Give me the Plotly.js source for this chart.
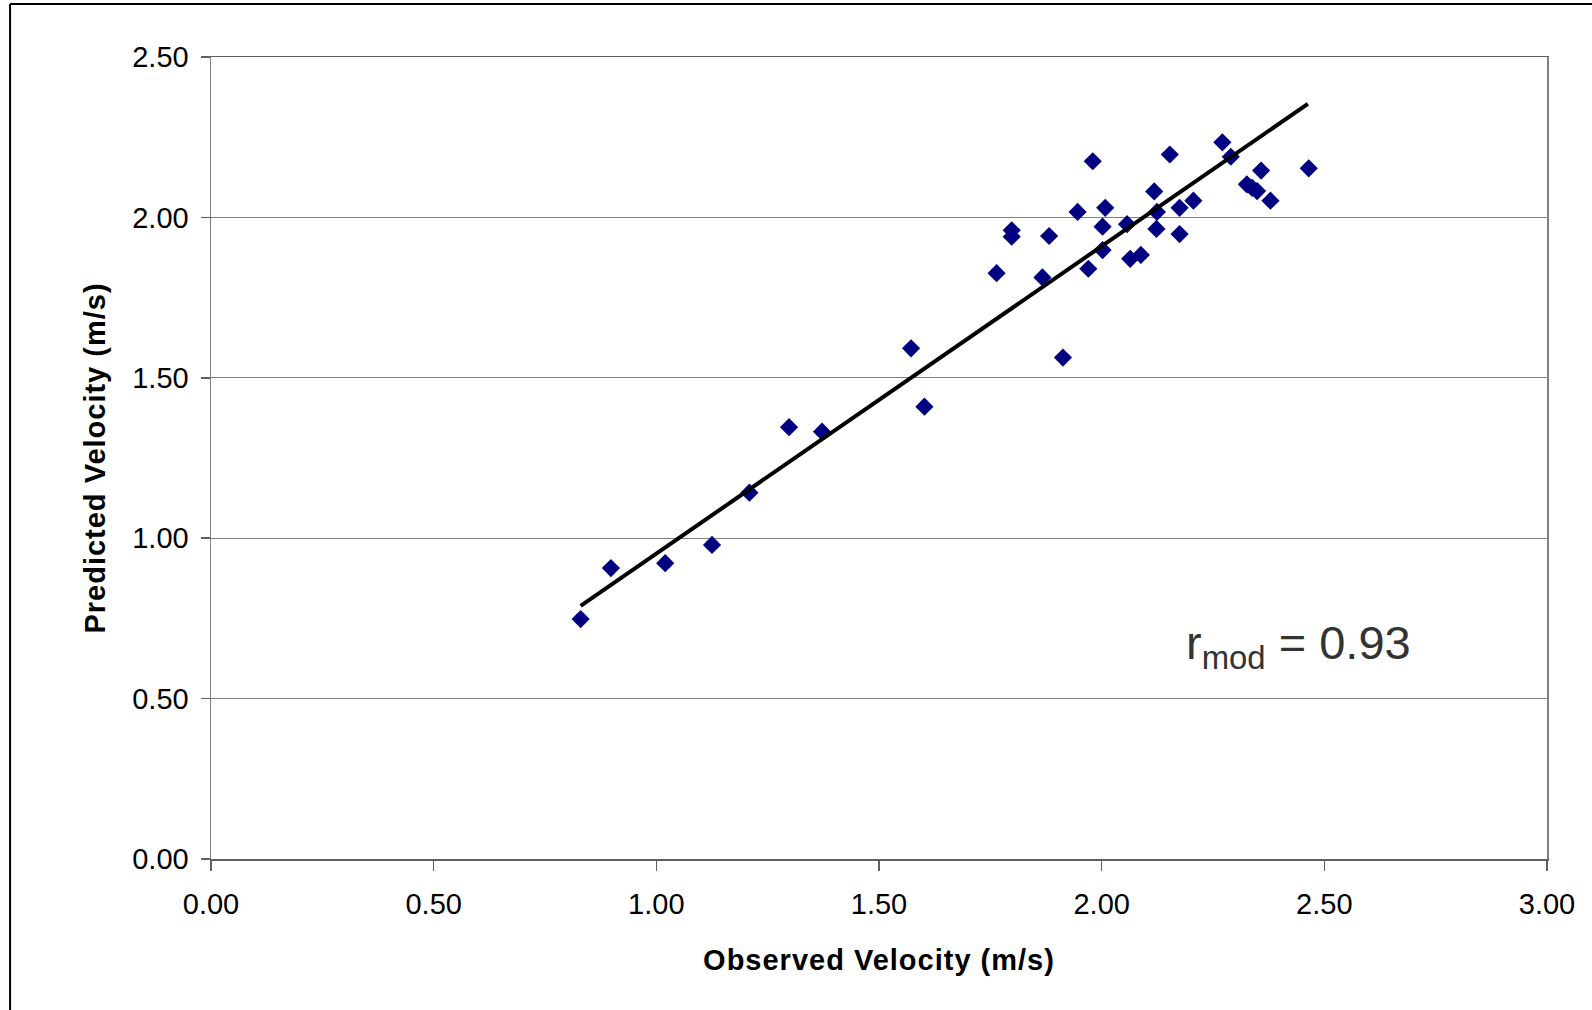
<!DOCTYPE html>
<html>
<head>
<meta charset="utf-8">
<script src="https://cdn.plot.ly/plotly-3.0.1.min.js"></script>
<style>
  html, body { margin: 0; padding: 0; background: #fff; }
  #chart { width: 1592px; height: 1010px; }
  #chart .xtitle, #chart .ytitle { letter-spacing: 1px; }
</style>
</head>
<body>
<div id="chart"></div>
<script>
// Observed velocity (m/s)
const observedVelocity = [0.830, 0.898, 1.020, 1.125, 1.209, 1.298, 1.372, 1.572, 1.602, 1.764,
  1.798, 1.798, 1.867, 1.882, 1.913, 1.946, 1.970, 1.980, 2.002, 2.002,
  2.008, 2.057, 2.064, 2.088, 2.118, 2.124, 2.123, 2.153, 2.175, 2.175,
  2.206, 2.271, 2.290, 2.326, 2.338, 2.349, 2.358, 2.379, 2.465];
// Predicted velocity (m/s)
const predictedVelocity = [0.748, 0.907, 0.922, 0.979, 1.142, 1.346, 1.332, 1.592, 1.410, 1.826,
  1.960, 1.940, 1.813, 1.942, 1.563, 2.017, 1.840, 2.175, 1.971, 1.898,
  2.030, 1.979, 1.871, 1.883, 2.081, 2.017, 1.964, 2.196, 2.030, 1.948,
  2.052, 2.234, 2.189, 2.103, 2.092, 2.082, 2.146, 2.052, 2.153];
// Linear trend line end points
const trendX = [0.830, 2.463];
const trendY = [0.789, 2.354];
// Tick values / labels
const xTicks = [0, 0.5, 1.0, 1.5, 2.0, 2.5, 3.0];
const xTickLabels = ["0.00", "0.50", "1.00", "1.50", "2.00", "2.50", "3.00"];
const yTicks = [0, 0.5, 1.0, 1.5, 2.0, 2.5];
const yTickLabels = ["0.00", "0.50", "1.00", "1.50", "2.00", "2.50"];
const annotationText = "r<sub>mod</sub> = 0.93";

const FONT = "Liberation Sans, Arial, sans-serif";

const traces = [
  {
    x: observedVelocity, y: predictedVelocity,
    type: "scatter", mode: "markers",
    marker: { symbol: "diamond", size: 14, color: "#000080", line: { width: 0 } },
    showlegend: false, hoverinfo: "x+y"
  },
  {
    x: trendX, y: trendY,
    type: "scatter", mode: "lines",
    line: { color: "#000000", width: 4 },
    showlegend: false, hoverinfo: "skip"
  }
];

const layout = {
  width: 1592, height: 1010,
  margin: { l: 211, r: 45, t: 57, b: 151 },
  paper_bgcolor: "#ffffff", plot_bgcolor: "#ffffff",
  font: { family: FONT, color: "#000000", size: 28 },
  xaxis: {
    range: [0, 3], tickmode: "array", tickvals: xTicks, ticktext: xTickLabels,
    showgrid: false, zeroline: false,
    showline: true, linecolor: "#606060", linewidth: 1.5, mirror: true,
    ticks: "outside", ticklen: 10, tickcolor: "#606060", tickwidth: 1.5,
    ticklabelstandoff: 9,
    tickfont: { size: 29, family: FONT, color: "#000" },
    title: { text: "<b>Observed Velocity (m/s)</b>", font: { size: 29, family: FONT, color: "#000" }, standoff: 30 },
    fixedrange: true
  },
  yaxis: {
    range: [0, 2.5], tickmode: "array", tickvals: yTicks, ticktext: yTickLabels,
    showgrid: true, gridcolor: "#808080", gridwidth: 1, zeroline: false,
    showline: true, linecolor: "#808080", linewidth: 1.5, mirror: true,
    ticks: "outside", ticklen: 9, tickcolor: "#606060", tickwidth: 1.5,
    ticklabelstandoff: 6,
    tickfont: { size: 29, family: FONT, color: "#000" },
    title: { text: "<b>Predicted Velocity (m/s)</b>", font: { size: 29, family: FONT, color: "#000" }, standoff: 18 },
    fixedrange: true
  },
  annotations: [
    {
      x: 2.184, y: 0.664, xref: "x", yref: "y",
      xanchor: "left", yanchor: "middle",
      text: annotationText, showarrow: false,
      font: { size: 47, family: FONT, color: "#333333" }
    }
  ],
  shapes: [
    { type: "line", xref: "paper", yref: "paper", x0: -0.1504, x1: 1.04, y0: 1.066, y1: 1.066, line: { color: "#000", width: 2 } },
    { type: "line", xref: "paper", yref: "paper", x0: -0.1504, x1: -0.1504, y0: 1.066, y1: -0.2, line: { color: "#000", width: 2 } }
  ]
};

Plotly.newPlot("chart", traces, layout, { displayModeBar: false, staticPlot: true });
</script>
</body>
</html>
